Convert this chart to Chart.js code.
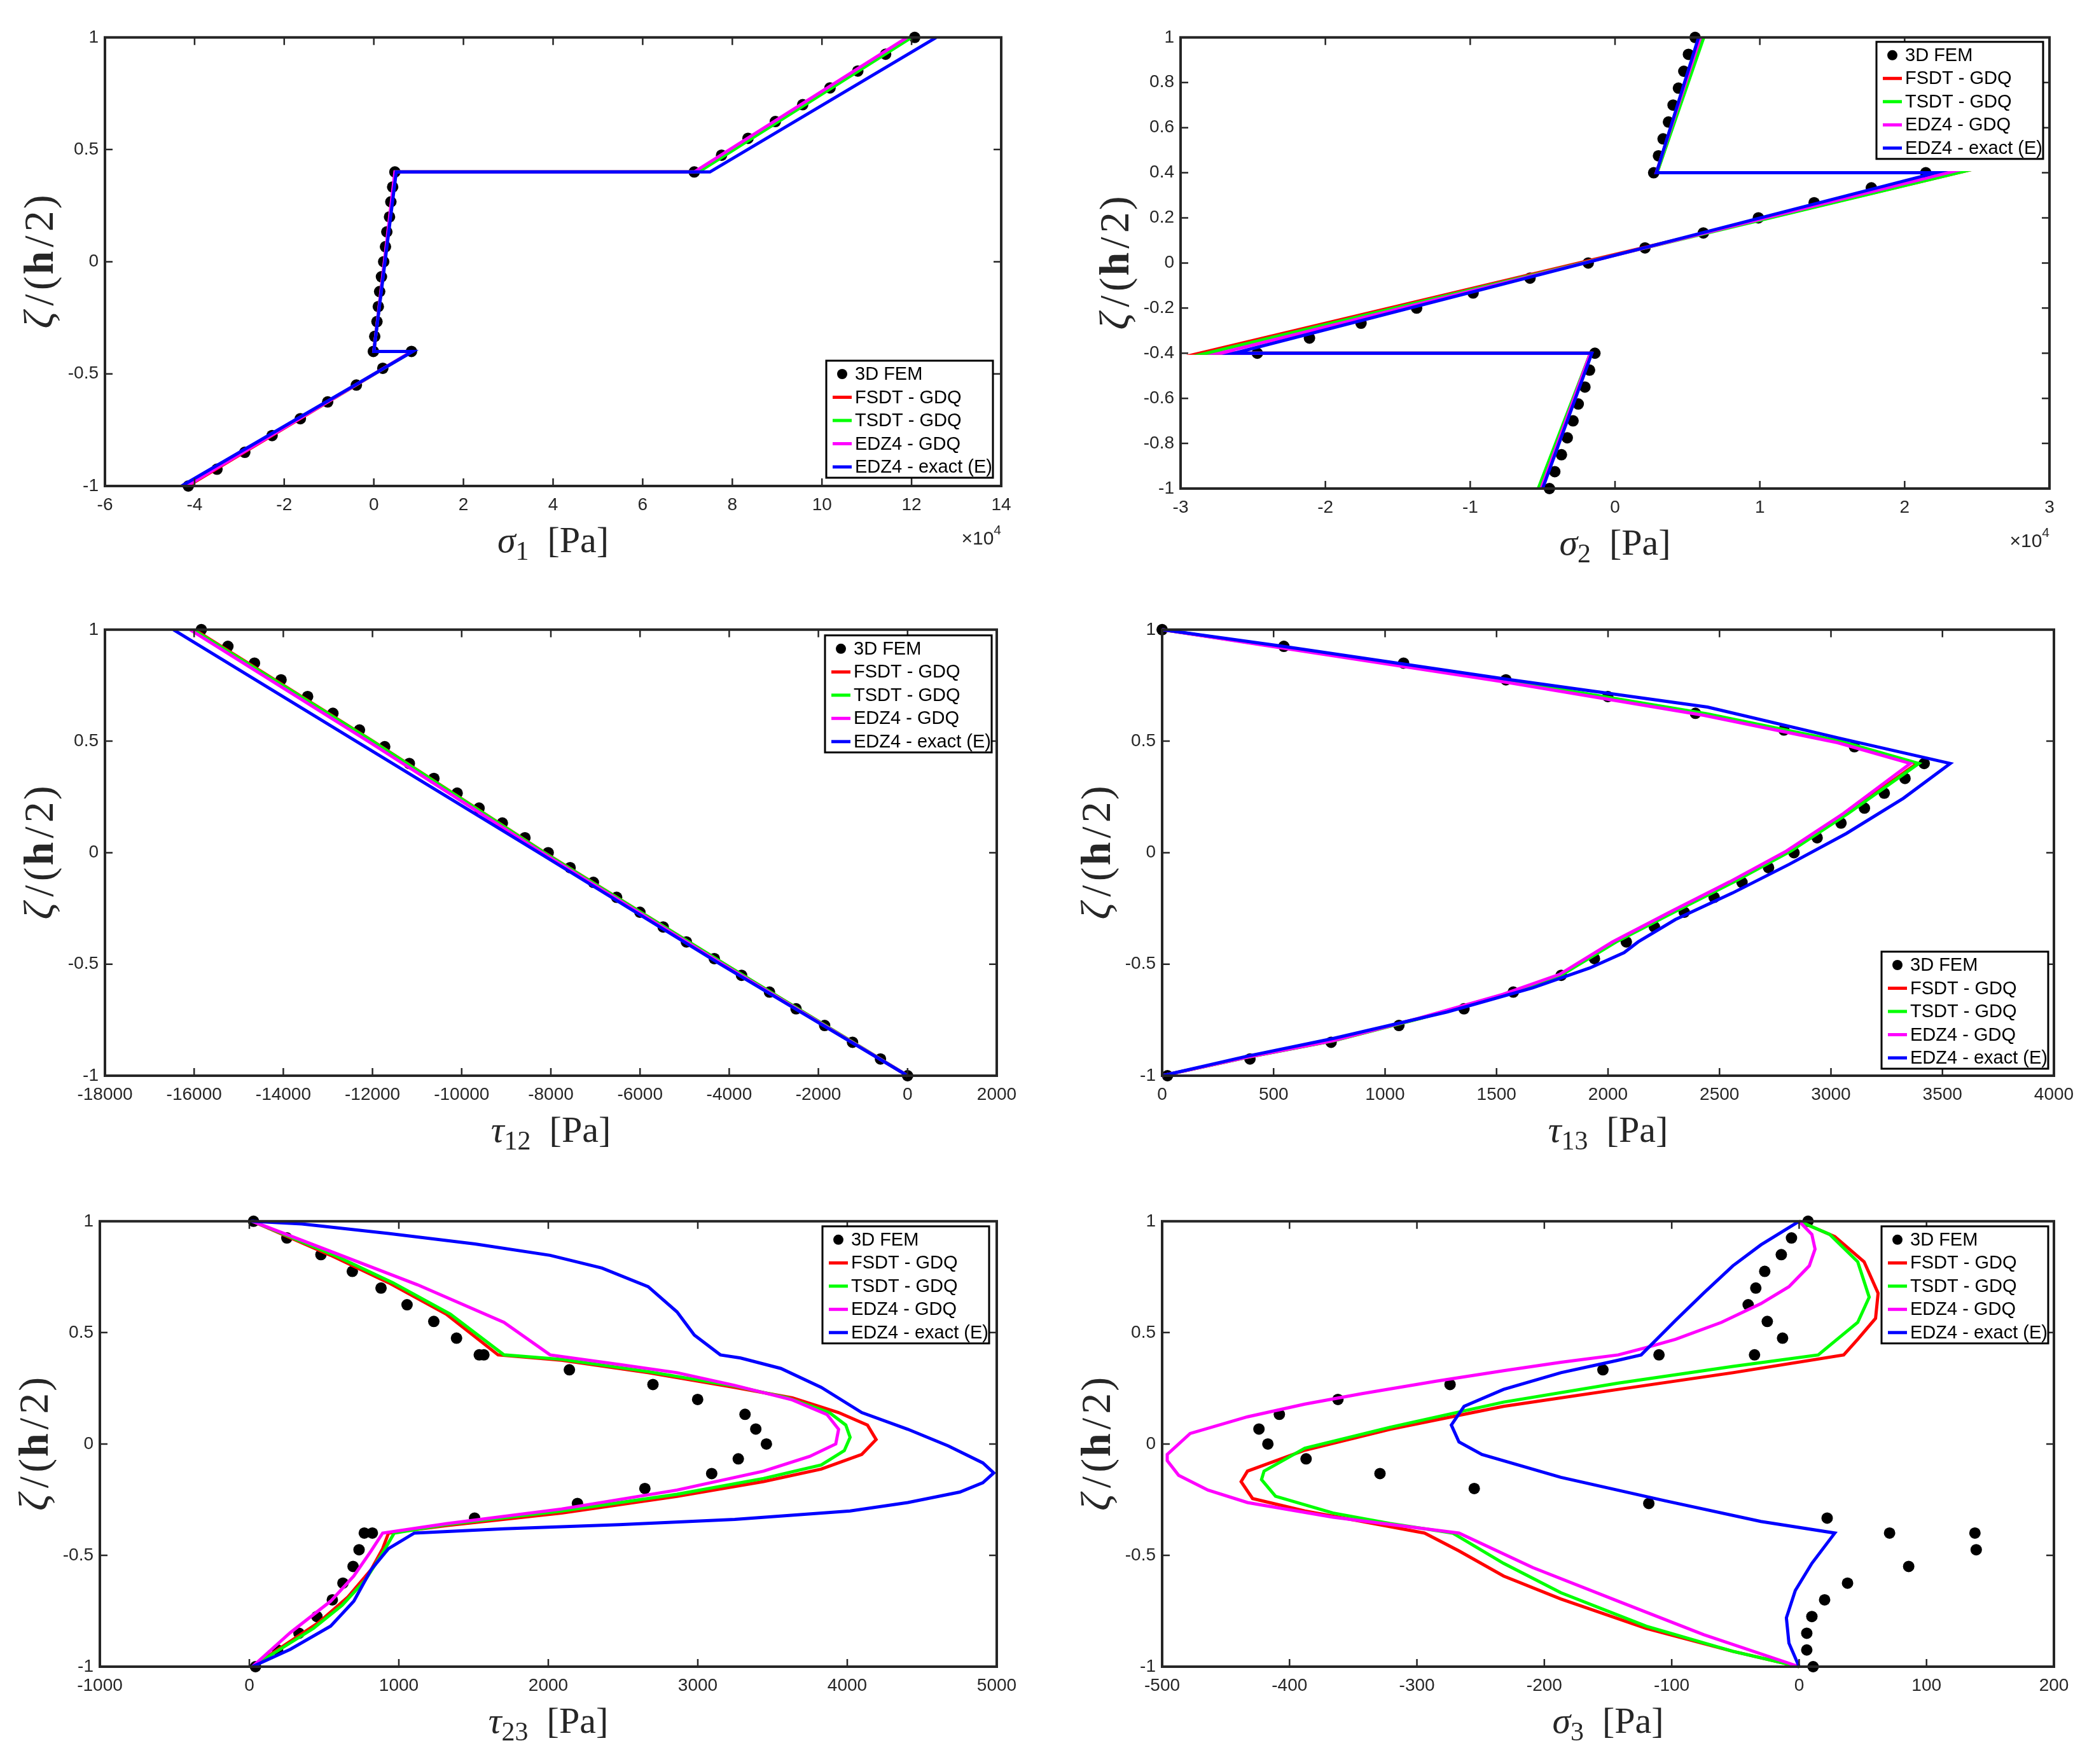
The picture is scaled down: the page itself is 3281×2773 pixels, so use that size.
<!DOCTYPE html>
<html>
<head>
<meta charset="utf-8" />
<title>Through-the-thickness stress profiles</title>
<script src="https://cdn.jsdelivr.net/npm/chart.js@4.4.0/dist/chart.umd.min.js"></script>
<style>
  body { margin: 0; background: #fff; width: 3281px; height: 2773px; position: relative; overflow: hidden; }
  canvas { position: absolute; }
</style>
</head>
<body>

<canvas id="c1"></canvas>
<canvas id="c2"></canvas>
<canvas id="c3"></canvas>
<canvas id="c4"></canvas>
<canvas id="c5"></canvas>
<canvas id="c6"></canvas>

<script>
// ---- data ----
const seriesNames = ['3D FEM', 'FSDT - GDQ', 'TSDT - GDQ', 'EDZ4 - GDQ', 'EDZ4 - exact (E)'];

// thickness positions of the 3D FEM samples, top to bottom
const femZeta29 = [1, 0.925, 0.85, 0.775, 0.7, 0.625, 0.55, 0.475, 0.4, 0.333, 0.267, 0.2, 0.133, 0.067, 0,
  -0.067, -0.133, -0.2, -0.267, -0.333, -0.4, -0.475, -0.55, -0.625, -0.7, -0.775, -0.85, -0.925, -1];
const femZeta31 = [1, 0.925, 0.85, 0.775, 0.7, 0.625, 0.55, 0.475, 0.4, 0.4, 0.333, 0.267, 0.2, 0.133, 0.067, 0,
  -0.067, -0.133, -0.2, -0.267, -0.333, -0.4, -0.4, -0.475, -0.55, -0.625, -0.7, -0.775, -0.85, -0.925, -1];

// sigma_1 and sigma_2 (x 10^4 Pa): piecewise linear through the layers
const layerZeta = [-1, -0.4, -0.4, 0.4, 0.4, 1];
const s1Fsdt  = [-4.15, 0.85, 0, 0.48, 7.2, 11.95];
const s1Tsdt  = [-4.2, 0.86, 0, 0.48, 7.25, 12.0];
const s1Edz4  = [-4.18, 0.85, 0, 0.47, 7.15, 11.9];
const s1Exact = [-4.29, 0.87, 0, 0.5, 7.5, 12.55];
const s1Fem = [12.07, 11.42, 10.8, 10.18, 9.57, 8.96, 8.35, 7.76, 7.15, 0.47, 0.42, 0.38, 0.35, 0.29, 0.26, 0.22,
  0.17, 0.13, 0.1, 0.07, 0.02, -0.01, 0.84, 0.2, -0.39, -1.03, -1.64, -2.27, -2.88, -3.5, -4.14];

const s2Fsdt  = [-0.52, -0.17, -2.87, 2.37, 0.29, 0.6];
const s2Tsdt  = [-0.53, -0.17, -2.82, 2.37, 0.29, 0.613];
const s2Edz4  = [-0.51, -0.17, -2.73, 2.3, 0.285, 0.59];
const s2Exact = [-0.5, -0.16, -2.63, 2.215, 0.286, 0.577];
const s2Fem = [0.553, 0.507, 0.475, 0.438, 0.401, 0.369, 0.332, 0.3, 0.267, 2.146, 1.77, 1.375, 0.99, 0.61, 0.207,
  -0.185, -0.587, -0.98, -1.37, -1.754, -2.11, -2.47, -0.139, -0.176, -0.208, -0.254, -0.29, -0.33, -0.37, -0.416, -0.453];

// tau_12 (Pa)
const t12Zeta  = [1, 0.5, 0, -0.5, -1];
const t12Fsdt  = [-15990, -11990, -8140, -4100, 0];
const t12Tsdt  = [-16020, -12000, -8150, -4100, 0];
const t12Edz4  = [-16090, -12100, -8200, -4150, 0];
const t12Exact = [-16465, -12370, -8270, -4200, 0];
const t12Fem = [-15839, -15243, -14647, -14051, -13455, -12888, -12292, -11726, -11174, -10623, -10101, -9610,
  -9088, -8581, -8060, -7568, -7046, -6525, -6003, -5481, -4960, -4334, -3723, -3097, -2501, -1860, -1234, -608, 0];

// tau_13 (Pa), [value, zeta]
const t13Fsdt = [[0, 1], [1551, 0.77], [2446, 0.62], [3043, 0.496], [3386, 0.4], [3069, 0.175], [2813, 0.007],
  [2558, -0.131], [2302, -0.26], [2072, -0.378], [2030, -0.4], [1790, -0.546], [1535, -0.635], [1151, -0.744],
  [767, -0.843], [384, -0.917], [0, -1]];
const t13Tsdt = [[0, 1], [1551, 0.771], [2446, 0.622], [3043, 0.5], [3394, 0.4], [3076, 0.175], [2820, 0.007],
  [2565, -0.131], [2309, -0.26], [2079, -0.378], [2037, -0.4], [1796, -0.546], [1540, -0.635], [1155, -0.744],
  [770, -0.843], [386, -0.917], [0, -1]];
const t13Edz4 = [[0, 1], [1540, 0.765], [2430, 0.616], [3030, 0.493], [3356, 0.4], [3055, 0.175], [2800, 0.007],
  [2545, -0.131], [2290, -0.26], [2062, -0.378], [2020, -0.4], [1782, -0.546], [1528, -0.635], [1146, -0.744],
  [765, -0.843], [383, -0.917], [0, -1]];
const t13Exact = [[0, 1], [537, 0.926], [1551, 0.777], [2446, 0.653], [3043, 0.512], [3535, 0.4], [3325, 0.244],
  [3069, 0.086], [2813, -0.052], [2558, -0.181], [2302, -0.3], [2135, -0.4], [2072, -0.448], [1918, -0.517],
  [1662, -0.606], [1279, -0.714], [767, -0.833], [384, -0.912], [0, -1]];
const t13Fem = [0, 546, 1083, 1542, 1999, 2392, 2789, 3105, 3418, 3332, 3239, 3150, 3045, 2938, 2834, 2720, 2601,
  2476, 2342, 2208, 2082, 1939, 1790, 1575, 1354, 1062, 758, 394, 24];

// tau_23 (Pa), [value, zeta]
const t23Fsdt = [[20, 1], [544, 0.847], [931, 0.724], [1317, 0.583], [1664, 0.4], [2089, 0.376], [2668, 0.32],
  [3247, 0.254], [3633, 0.207], [3942, 0.141], [4135, 0.085], [4193, 0.02], [4097, -0.047], [3826, -0.113],
  [3440, -0.169], [2861, -0.235], [2089, -0.31], [1317, -0.367], [931, -0.4], [892, -0.47], [815, -0.564],
  [660, -0.687], [467, -0.8], [236, -0.903], [20, -1]];
const t23Tsdt = [[20, 1], [560, 0.85], [960, 0.724], [1345, 0.583], [1703, 0.4], [2089, 0.38], [2668, 0.325],
  [3247, 0.26], [3600, 0.207], [3880, 0.141], [3990, 0.085], [4019, 0.03], [3980, -0.03], [3826, -0.094],
  [3440, -0.155], [2861, -0.226], [2089, -0.301], [1317, -0.362], [969, -0.4], [892, -0.489], [776, -0.611],
  [621, -0.724], [429, -0.828], [20, -1]];
const t23Edz4 = [[20, 1], [544, 0.865], [1124, 0.715], [1703, 0.546], [2012, 0.4], [2475, 0.357], [2861, 0.32],
  [3247, 0.263], [3633, 0.198], [3865, 0.132], [3942, 0.066], [3923, 0], [3749, -0.056], [3440, -0.122],
  [2861, -0.207], [2089, -0.292], [1317, -0.358], [892, -0.4], [815, -0.48], [699, -0.593], [544, -0.706],
  [274, -0.847], [20, -1]];
const t23Exact = [[10, 1], [351, 0.988], [931, 0.945], [1510, 0.898], [2012, 0.847], [2359, 0.79], [2668, 0.706],
  [2861, 0.593], [2977, 0.489], [3151, 0.4], [3286, 0.386], [3556, 0.339], [3826, 0.254], [4097, 0.141],
  [4405, 0.066], [4676, -0.009], [4907, -0.085], [4980, -0.13], [4907, -0.174], [4753, -0.216], [4405, -0.263],
  [4019, -0.301], [3247, -0.339], [2475, -0.362], [1703, -0.381], [1104, -0.4], [931, -0.47], [815, -0.564],
  [699, -0.706], [544, -0.818], [274, -0.922], [20, -1]];
const t23Fem = [28, 251, 479, 689, 881, 1055, 1234, 1386, 1538, 1569, 2141, 2700, 2999, 3316, 3388, 3459, 3271,
  3093, 2646, 2195, 1507, 769, 823, 734, 694, 626, 555, 452, 332, 189, 41];

// sigma_3 (Pa), [value, zeta]
const s3Fsdt = [[0, 1], [28, 0.931], [51, 0.818], [62, 0.677], [60, 0.564], [46, 0.47], [35, 0.4], [-52, 0.32],
  [-142, 0.245], [-232, 0.169], [-321, 0.066], [-388, -0.028], [-433, -0.122], [-438, -0.169], [-429, -0.245],
  [-388, -0.301], [-343, -0.348], [-294, -0.4], [-267, -0.48], [-232, -0.593], [-187, -0.696], [-120, -0.828],
  [-52, -0.931], [0, -1]];
const s3Tsdt = [[0, 1], [24, 0.941], [46, 0.818], [55, 0.659], [46, 0.546], [15, 0.4], [-52, 0.348], [-142, 0.273],
  [-232, 0.188], [-321, 0.075], [-388, -0.019], [-420, -0.122], [-422, -0.16], [-411, -0.235], [-366, -0.31],
  [-321, -0.357], [-272, -0.4], [-232, -0.536], [-187, -0.668], [-120, -0.818], [-52, -0.931], [0, -1]];
const s3Edz4 = [[0, 1], [10, 0.941], [12.5, 0.875], [8, 0.8], [-8, 0.706], [-30, 0.63], [-61, 0.546], [-97, 0.47],
  [-120, 0.433], [-142, 0.4], [-187, 0.367], [-232, 0.329], [-285, 0.282], [-343, 0.226], [-388, 0.179],
  [-433, 0.122], [-478, 0.047], [-496, -0.047], [-496, -0.075], [-487, -0.141], [-464, -0.207], [-433, -0.263],
  [-366, -0.329], [-267, -0.4], [-209, -0.555], [-142, -0.706], [-75, -0.856], [0, -1]];
const s3Exact = [[0, 1], [-30, 0.894], [-52, 0.8], [-75, 0.677], [-97, 0.555], [-124, 0.4], [-142, 0.376],
  [-187, 0.32], [-232, 0.245], [-263, 0.169], [-273, 0.085], [-267, 0.009], [-249, -0.047], [-187, -0.15],
  [-106, -0.254], [-30, -0.348], [28, -0.4], [10, -0.536], [-3, -0.658], [-10, -0.781], [-8, -0.894], [0, -1]];
const s3Fem = [7, -6, -14, -27, -34, -40, -25, -13, -35, -110, -154, -274, -362, -408, -424, -417, -387, -329,
  -255, -118, 22, 71, 138, 139, 86, 38, 20, 10, 6, 6, 11];

// ---- drawing ----
const ML = 155, MT = 20, MR = 50, MB = 140;
const INK = '#262626';
const SANS = '"Liberation Sans", Arial, sans-serif';
const SERIF = '"Liberation Serif", "Times New Roman", serif';
const colors = ['#000000', '#ff0000', '#00ff00', '#ff00ff', '#0000ff'];

function zip(xs, zs) { return xs.map((v, i) => ({ x: v, y: zs[i] })); }
function pts(pairs) { return pairs.map(p => ({ x: p[0], y: p[1] })); }
function fmt(v) { return String(Math.round(v * 1000) / 1000); }

function drawPieces(ctx, pieces, cx, baseY) {
  let total = 0;
  pieces.forEach(p => { ctx.font = p.font; total += ctx.measureText(p.t).width + (p.gap || 0); });
  let x = cx - total / 2;
  pieces.forEach(p => {
    ctx.font = p.font;
    ctx.fillText(p.t, x, baseY + (p.dy || 0));
    x += ctx.measureText(p.t).width + (p.gap || 0);
  });
}

const figurePlugin = {
  id: 'figure',
  afterDraw(chart, args, o) {
    const ctx = chart.ctx, a = chart.chartArea;
    const xs = chart.scales.x, ys = chart.scales.y;
    ctx.save();

    // box with inward ticks on all four sides
    ctx.strokeStyle = INK;
    ctx.lineWidth = 2.5;
    ctx.beginPath();
    xs.ticks.forEach(t => {
      const p = xs.getPixelForValue(t.value);
      ctx.moveTo(p, a.bottom); ctx.lineTo(p, a.bottom - 12);
      ctx.moveTo(p, a.top); ctx.lineTo(p, a.top + 12);
    });
    ys.ticks.forEach(t => {
      const p = ys.getPixelForValue(t.value);
      ctx.moveTo(a.left, p); ctx.lineTo(a.left + 12, p);
      ctx.moveTo(a.right, p); ctx.lineTo(a.right - 12, p);
    });
    ctx.stroke();
    ctx.lineWidth = 4;
    ctx.strokeRect(a.left, a.top, a.width, a.height);

    // legend box
    const bw = 262, bh = 184;
    const bx = a.right - o.legend.dx - bw;
    const by = o.legend.corner === 'ne' ? a.top + o.legend.dy : a.bottom - o.legend.dy - bh;
    ctx.fillStyle = '#fff';
    ctx.fillRect(bx, by, bw, bh);
    ctx.strokeStyle = '#000';
    ctx.lineWidth = 3;
    ctx.strokeRect(bx, by, bw, bh);
    ctx.font = '29px ' + SANS;
    ctx.textBaseline = 'middle';
    chart.data.datasets.forEach((ds, i) => {
      const cy = by + 21 + i * 36.5;
      if (ds.showLine) {
        ctx.strokeStyle = ds.borderColor;
        ctx.lineWidth = 5;
        ctx.beginPath(); ctx.moveTo(bx + 10, cy); ctx.lineTo(bx + 40, cy); ctx.stroke();
      } else {
        ctx.fillStyle = '#000';
        ctx.beginPath(); ctx.arc(bx + 25, cy, 8, 0, Math.PI * 2); ctx.fill();
      }
      ctx.fillStyle = '#000';
      ctx.fillText(ds.label, bx + 45, cy + 1);
    });

    // axis titles
    ctx.fillStyle = INK;
    ctx.textBaseline = 'alphabetic';
    ctx.textAlign = 'left';
    drawPieces(ctx, [
      { t: o.sym, font: 'italic 58px ' + SERIF },
      { t: o.sub, font: '42px ' + SERIF, dy: 12 },
      { t: '  [Pa]', font: '58px ' + SERIF }
    ], (a.left + a.right) / 2, a.bottom + 104);

    ctx.save();
    ctx.translate(a.left - 104, (a.top + a.bottom) / 2);
    ctx.rotate(-Math.PI / 2);
    drawPieces(ctx, [
      { t: 'ζ', font: 'italic 66px ' + SERIF, gap: 9 },
      { t: '/', font: '66px ' + SERIF, gap: 6 },
      { t: '(', font: '66px ' + SERIF, gap: 3 },
      { t: 'h', font: 'bold 66px ' + SERIF, gap: 6 },
      { t: '/', font: '66px ' + SERIF, gap: 6 },
      { t: '2', font: '66px ' + SERIF, gap: 3 },
      { t: ')', font: '66px ' + SERIF }
    ], 0, 22);
    ctx.restore();

    if (o.exponent) {
      ctx.font = '21px ' + SANS;
      const w4 = ctx.measureText('4').width;
      ctx.fillText('4', a.right - w4, a.bottom + 76);
      ctx.font = '30px ' + SANS;
      const w10 = ctx.measureText('×10').width;
      ctx.fillText('×10', a.right - w4 - w10, a.bottom + 92);
    }
    ctx.restore();
  }
};

const panels = [
  { id: 'c1', left: 165, top: 52, w: 1409, h: 712, xMin: -6, xMax: 14, xStep: 2, yStep: 0.5,
    sym: 'σ', sub: '1', exponent: true, legend: { corner: 'se', dx: 13, dy: 13 },
    fem: zip(s1Fem, femZeta31),
    lines: [zip(s1Fsdt, layerZeta), zip(s1Tsdt, layerZeta), zip(s1Edz4, layerZeta), zip(s1Exact, layerZeta)] },
  { id: 'c2', left: 1856, top: 52, w: 1366, h: 716, xMin: -3, xMax: 3, xStep: 1, yStep: 0.2,
    sym: 'σ', sub: '2', exponent: true, legend: { corner: 'ne', dx: 10, dy: 7 },
    fem: zip(s2Fem, femZeta31),
    lines: [zip(s2Fsdt, layerZeta), zip(s2Tsdt, layerZeta), zip(s2Edz4, layerZeta), zip(s2Exact, layerZeta)] },
  { id: 'c3', left: 165, top: 983, w: 1402, h: 708, xMin: -18000, xMax: 2000, xStep: 2000, yStep: 0.5,
    sym: 'τ', sub: '12', legend: { corner: 'ne', dx: 8, dy: 9 },
    fem: zip(t12Fem, femZeta29),
    lines: [zip(t12Fsdt, t12Zeta), zip(t12Tsdt, t12Zeta), zip(t12Edz4, t12Zeta), zip(t12Exact, t12Zeta)] },
  { id: 'c4', left: 1827, top: 983, w: 1402, h: 708, xMin: 0, xMax: 4000, xStep: 500, yStep: 0.5,
    sym: 'τ', sub: '13', legend: { corner: 'se', dx: 9, dy: 11 },
    fem: zip(t13Fem, femZeta29),
    lines: [pts(t13Fsdt), pts(t13Tsdt), pts(t13Edz4), pts(t13Exact)] },
  { id: 'c5', left: 157, top: 1913, w: 1410, h: 707, xMin: -1000, xMax: 5000, xStep: 1000, yStep: 0.5,
    sym: 'τ', sub: '23', legend: { corner: 'ne', dx: 12, dy: 8 },
    fem: zip(t23Fem, femZeta31),
    lines: [pts(t23Fsdt), pts(t23Tsdt), pts(t23Edz4), pts(t23Exact)] },
  { id: 'c6', left: 1827, top: 1913, w: 1402, h: 707, xMin: -500, xMax: 200, xStep: 100, yStep: 0.5,
    sym: 'σ', sub: '3', legend: { corner: 'ne', dx: 9, dy: 8 },
    fem: zip(s3Fem, femZeta31),
    lines: [pts(s3Fsdt), pts(s3Tsdt), pts(s3Edz4), pts(s3Exact)] }
];

panels.forEach(p => {
  const cv = document.getElementById(p.id);
  cv.width = p.w + ML + MR;
  cv.height = p.h + MT + MB;
  cv.style.left = (p.left - ML) + 'px';
  cv.style.top = (p.top - MT) + 'px';

  const datasets = [{
    label: seriesNames[0], data: p.fem, showLine: false, order: 5, clip: false,
    pointRadius: 9, pointBackgroundColor: '#000', pointBorderWidth: 0
  }];
  p.lines.forEach((d, i) => {
    datasets.push({
      label: seriesNames[i + 1], data: d, showLine: true, order: 4 - i, clip: false,
      borderColor: colors[i + 1], borderWidth: 5, pointRadius: 0, tension: 0, fill: false
    });
  });

  const tickFont = { family: SANS, size: 28 };
  new Chart(cv, {
    type: 'scatter',
    data: { datasets: datasets },
    plugins: [figurePlugin],
    options: {
      responsive: false,
      animation: false,
      devicePixelRatio: 1,
      layout: { padding: { left: 0, top: MT, right: MR, bottom: 0 } },
      plugins: {
        legend: { display: false },
        tooltip: { enabled: false },
        figure: { sym: p.sym, sub: p.sub, exponent: !!p.exponent, legend: p.legend }
      },
      scales: {
        x: {
          type: 'linear', min: p.xMin, max: p.xMax,
          grid: { display: false, drawTicks: false }, border: { display: false },
          ticks: { stepSize: p.xStep, autoSkip: false, maxRotation: 0, padding: 13, color: INK, font: tickFont, callback: fmt },
          afterFit: s => { s.height = MB; }
        },
        y: {
          type: 'linear', min: -1, max: 1,
          grid: { display: false, drawTicks: false }, border: { display: false },
          ticks: { stepSize: p.yStep, autoSkip: false, padding: 10, color: INK, font: tickFont, callback: fmt },
          afterFit: s => { s.width = ML; }
        }
      }
    }
  });
});
</script>
</body>
</html>
